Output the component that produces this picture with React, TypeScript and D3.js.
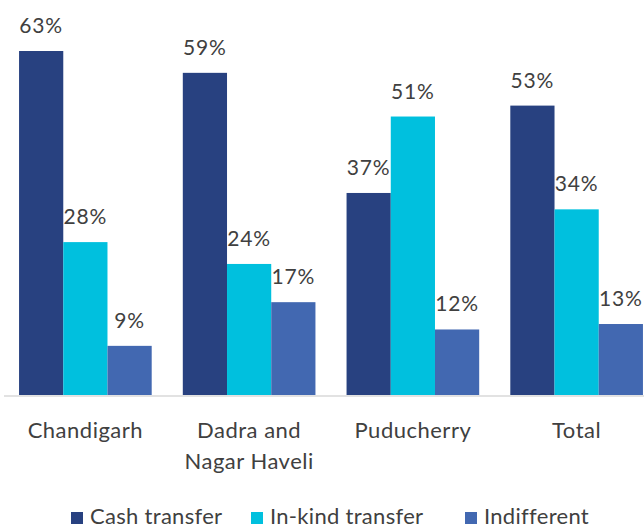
import React from "react";
import * as d3 from "d3";

const categories = ["Chandigarh", "Dadra and\nNagar Haveli", "Puducherry", "Total"];
const seriesNames = ["Cash transfer", "In-kind transfer", "Indifferent"];
const cashTransfer = [63, 59, 37, 53];
const inKindTransfer = [28, 24, 51, 34];
const indifferent = [9, 17, 12, 13];
const colors = ["#284180", "#00C0DE", "#4268B1"];

const W = 644;
const H = 529;
const FONT = "Lato, 'Open Sans', sans-serif";

export default function App() {
  const series = [cashTransfer, inKindTransfer, indifferent];
  const x = d3.scaleBand<string>().domain(categories).range([3.5, 658.5]).paddingInner(0.19).paddingOuter(0.095);
  const xi = d3.scaleBand<number>().domain([0, 1, 2]).range([0, x.bandwidth()]);
  const y = d3.scaleLinear().domain([0, 63]).range([395, 51]);

  const legendX = [71, 251, 465];

  return (
    <svg width={W} height={H} style={{ position: "fixed", left: 0, top: 0, background: "#fff" }} fontFamily={FONT}>
      {categories.map((c, ci) => (
        <g key={c} transform={`translate(${x(c)},0)`}>
          {series.map((s, si) => (
            <g key={si}>
              <rect x={xi(si)} y={y(s[ci])} width={xi.bandwidth()} height={y(0) - y(s[ci])} fill={colors[si]} />
              <text x={xi(si)! + xi.bandwidth() / 2} y={y(s[ci]) - 18} textAnchor="middle" fontSize={21} letterSpacing={0.8} fill="#404040">
                {s[ci]}%
              </text>
            </g>
          ))}
          {c.split("\n").map((line, li) => (
            <text key={li} x={x.bandwidth() / 2} y={438 + li * 31} textAnchor="middle" fontSize={22} letterSpacing={0.5} fill="#404040">
              {line}
            </text>
          ))}
        </g>
      ))}
      <line x1={4} x2={644} y1={396} y2={396} stroke="#d9d9d9" strokeWidth={1.5} />
      {seriesNames.map((n, i) => (
        <g key={n}>
          <rect x={legendX[i]} y={512} width={12} height={12} fill={colors[i]} />
          <text x={legendX[i] + 19} y={524} fontSize={22} letterSpacing={0.3} fill="#404040">{n}</text>
        </g>
      ))}
    </svg>
  );
}
